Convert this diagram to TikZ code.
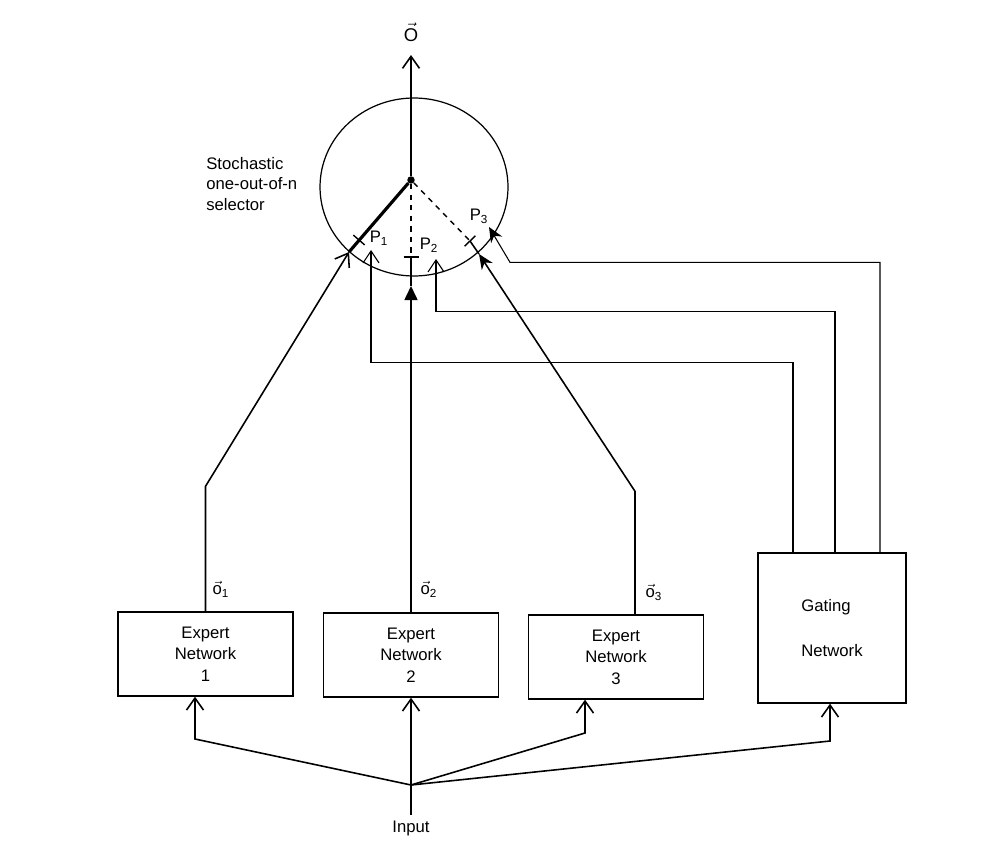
\documentclass[tikz,border=0pt]{standalone}
\usepackage{fontspec}
\setmainfont{Liberation Sans}
\usetikzlibrary{arrows.meta,positioning,calc}
\newcommand{\vecsub}[2]{$\vec{\mbox{#1}}$\textsubscript{#2}}
\tikzset{
  netbox/.style={rectangle, draw, line width=0.8pt, align=center, inner sep=0pt,
                 font=\fontsize{9.5}{12.2}\selectfont, minimum width=3.5cm, minimum height=1.68cm},
  lbl/.style={inner sep=0pt, font=\fontsize{9.5}{11.9}\selectfont},
  lnk/.style={line width=0.9pt},
  arr/.style={-{Straight Barb[length=2.4mm,width=3.4mm]}, line width=0.9pt},
  garr/.style={-{Straight Barb[length=2.4mm,width=3.2mm]}, line width=0.6pt},
  farr/.style={-{Stealth[length=3mm,width=2.6mm]}, line width=0.9pt},
  tick/.style={line width=0.8pt},
}
\begin{document}
\begin{tikzpicture}[x=0.02cm, y=-0.02cm]
  \useasboundingbox (0,0) rectangle (1000,865);
  % selector
  \coordinate (selc) at (414,187);
  \draw[line width=0.7pt] (selc) ellipse [x radius=1.88cm, y radius=1.78cm];
  \node[circle, fill, inner sep=1.5pt] (hub) at (411,180) {};
  \node[lbl, align=left, anchor=west] (sellbl) at (206,184) {Stochastic\\one-out-of-n\\selector};
  \node[lbl, font=\fontsize{10.5}{12}\selectfont] (out) at (411,32) {$\vec{\mbox{O}}$};
  \coordinate (otip) at (411,55);
  \draw[arr] (hub) -- (otip);
  % where the inputs meet the circle, and the ticks
  \coordinate (c1) at (349,252);  \coordinate (t1) at (359,240);
  \coordinate (c2) at (411,277);  \coordinate (t2) at (411,257);
  \coordinate (c3) at (479,254);  \coordinate (t3) at (470,241);
  \coordinate (a2) at (411,286);
  \draw[line width=1.8pt] (hub) -- (c1);
  \draw[dashed, line width=0.8pt] (hub) -- (t2);
  \draw[dashed, line width=0.8pt] (hub) -- (t3);
  \draw[lnk] (t3) -- (c3);
  \draw[tick] ($(t1)!0.15cm!90:(hub)$) -- ($(t1)!0.15cm!-90:(hub)$);
  \draw[tick] ($(t2)!0.15cm!90:(hub)$) -- ($(t2)!0.15cm!-90:(hub)$);
  \draw[tick] ($(t3)!0.15cm!90:(hub)$) -- ($(t3)!0.15cm!-90:(hub)$);
  \node[lbl] (p1) at (379,238) {P\textsubscript{1}};
  \node[lbl] (p2) at (429,245) {P\textsubscript{2}};
  \node[lbl] (p3) at (479,216) {P\textsubscript{3}};
  % experts and gate
  \node[netbox] (e1) at (205.5,654) {Expert\\Network\\1};
  \node[netbox] (e2) at (411,655) {Expert\\Network\\2};
  \node[netbox] (e3) at (616,657) {Expert\\Network\\3};
  \node[netbox, align=left, minimum width=2.96cm, minimum height=3cm] (gate) at (832,628) {Gating\\[0.47cm]Network};
  \node[lbl] (o1) at (221,589) {\vecsub{o}{1}};
  \node[lbl] (o2) at (429,589) {\vecsub{o}{2}};
  \node[lbl] (o3) at (654,592) {\vecsub{o}{3}};
  \draw[arr] (e1.north) -- ++(0,-125) -- (c1);
  \draw[lnk, -{Triangle[length=2.8mm,width=2.6mm]}] (e2.north) -- (a2);
  \draw[lnk] (a2) -- (t2);
  \draw[farr] ([xshift=0.38cm]e3.north) -- ++(0,-123) -- (c3);
  % gating outputs
  \coordinate (pp1) at (371,250);
  \coordinate (pp2) at (436,259);
  \coordinate (pp3) at (489,227);
  \draw[garr] ([xshift=-0.78cm]gate.north) -- ++(0,-190) -| (pp1);
  \draw[garr] ([xshift=0.06cm]gate.north) -- ++(0,-241) -| (pp2);
  \draw[farr, line width=0.6pt] ([xshift=0.96cm]gate.north) -- ++(0,-290) -- ++(-370,0) -- (pp3);
  % input fan
  \node[lbl] (in) at (411,828) {Input};
  \coordinate (fan) at (411,785);
  \draw[lnk] (in.north) ++(0,-5) -- (fan);
  \draw[arr] (fan) -- (195,739) -- ([xshift=-0.21cm]e1.south);
  \draw[arr] (fan) -- (e2.south);
  \draw[arr] (fan) -- (585,733) -- ([xshift=-0.62cm]e3.south);
  \draw[arr] (fan) -- (830,741) -- ([xshift=-0.04cm]gate.south);
\end{tikzpicture}
\end{document}
